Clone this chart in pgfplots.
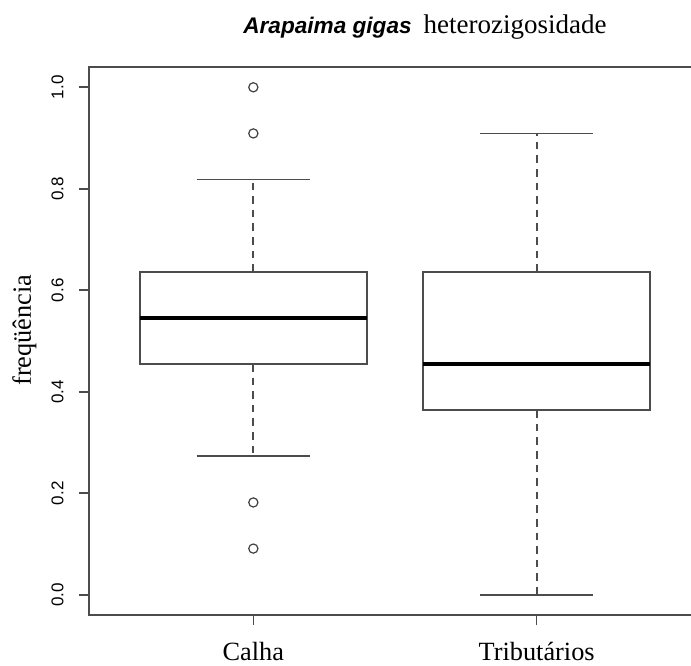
\documentclass[border=0pt]{standalone}
\usepackage{pgfplots}
\pgfplotsset{compat=1.18}
\usepgfplotslibrary{statistics}
\usepackage{fontspec}
\setmainfont{Liberation Serif}
\newfontfamily\arialf{Liberation Sans}
\begin{document}
\begin{tikzpicture}
\begin{axis}[
  at={(44.5pt,25pt)}, anchor=south west,
  scale only axis, width=306pt, height=274pt,
  xmin=0.42, xmax=2.58, ymin=-0.04, ymax=1.04,
  axis line style={black!70, line width=0.8pt},
  tick style={black!70, line width=0.8pt},
  tick align=outside, tick pos=left, major tick length=5pt,
  xtick={1,2}, xticklabels={Calha, Tributários},
  xticklabel style={font=\fontsize{13.15}{15}\selectfont, anchor=base, inner sep=0pt, yshift=-17.5pt},
  ytick={0,0.2,0.4,0.6,0.8,1.0},
  /pgf/number format/assume math mode=true,
  yticklabel style={/pgf/number format/fixed, /pgf/number format/fixed zerofill, /pgf/number format/precision=1,
    font=\arialf\fontsize{8.5}{10}\selectfont, xshift=-7.5pt, rotate=90, anchor=south, inner sep=0pt},
  ylabel={freqüência},
  ylabel style={at={(axis description cs:-0.0948,0.52)}, anchor=base, font=\fontsize{13.15}{15}\selectfont, inner sep=0pt},
  title={{\arialf\bfseries\itshape\fontsize{11.3}{13}\selectfont Arapaima gigas}\hspace{6pt}{\fontsize{13.5}{15}\selectfont heterozigosidade}},
  every axis title/.style={at={(axis description cs:0.2516,1.0620)}, anchor=base west, inner sep=0pt},
  boxplot/draw direction=y,
  boxplot/every whisker/.style={black!70, line width=0.9pt},
  boxplot/draw/lower whisker/.code={
    \draw[/pgfplots/boxplot/every whisker/.try, dash pattern=on 3.8pt off 3pt]
      (boxplot box cs:\pgfplotsboxplotvalue{lower quartile},0.5) --
      (boxplot box cs:\pgfplotsboxplotvalue{lower whisker},0.5);
    \draw[/pgfplots/boxplot/every whisker/.try]
      (boxplot whisker cs:\pgfplotsboxplotvalue{lower whisker},0) --
      (boxplot whisker cs:\pgfplotsboxplotvalue{lower whisker},1);
  },
  boxplot/draw/upper whisker/.code={
    \draw[/pgfplots/boxplot/every whisker/.try, dash pattern=on 3.8pt off 3pt]
      (boxplot box cs:\pgfplotsboxplotvalue{upper quartile},0.5) --
      (boxplot box cs:\pgfplotsboxplotvalue{upper whisker},0.5);
    \draw[/pgfplots/boxplot/every whisker/.try]
      (boxplot whisker cs:\pgfplotsboxplotvalue{upper whisker},0) --
      (boxplot whisker cs:\pgfplotsboxplotvalue{upper whisker},1);
  },
  boxplot/every median/.style={black, line width=1.7pt},
]
\addplot[black!70, line width=0.9pt, mark=none,
  boxplot prepared={draw position=1, lower whisker=0.2727, lower quartile=0.4545,
    median=0.5455, upper quartile=0.6364, upper whisker=0.8182,
    box extend=0.8, whisker extend=0.4}] coordinates {};
\addplot[black!70, line width=0.9pt, mark=none,
  boxplot prepared={draw position=2, lower whisker=0.0, lower quartile=0.3636,
    median=0.4545, upper quartile=0.6364, upper whisker=0.9091,
    box extend=0.8, whisker extend=0.4}] coordinates {};
\addplot[only marks, mark=o, mark size=2.3pt, black!75, line width=0.6pt]
  coordinates {(1,0.0909) (1,0.1818) (1,0.9091) (1,1.0)};
\end{axis}
\pgfresetboundingbox
\useasboundingbox (0,0) rectangle (345.5pt,332.5pt);
\end{tikzpicture}
\end{document}
